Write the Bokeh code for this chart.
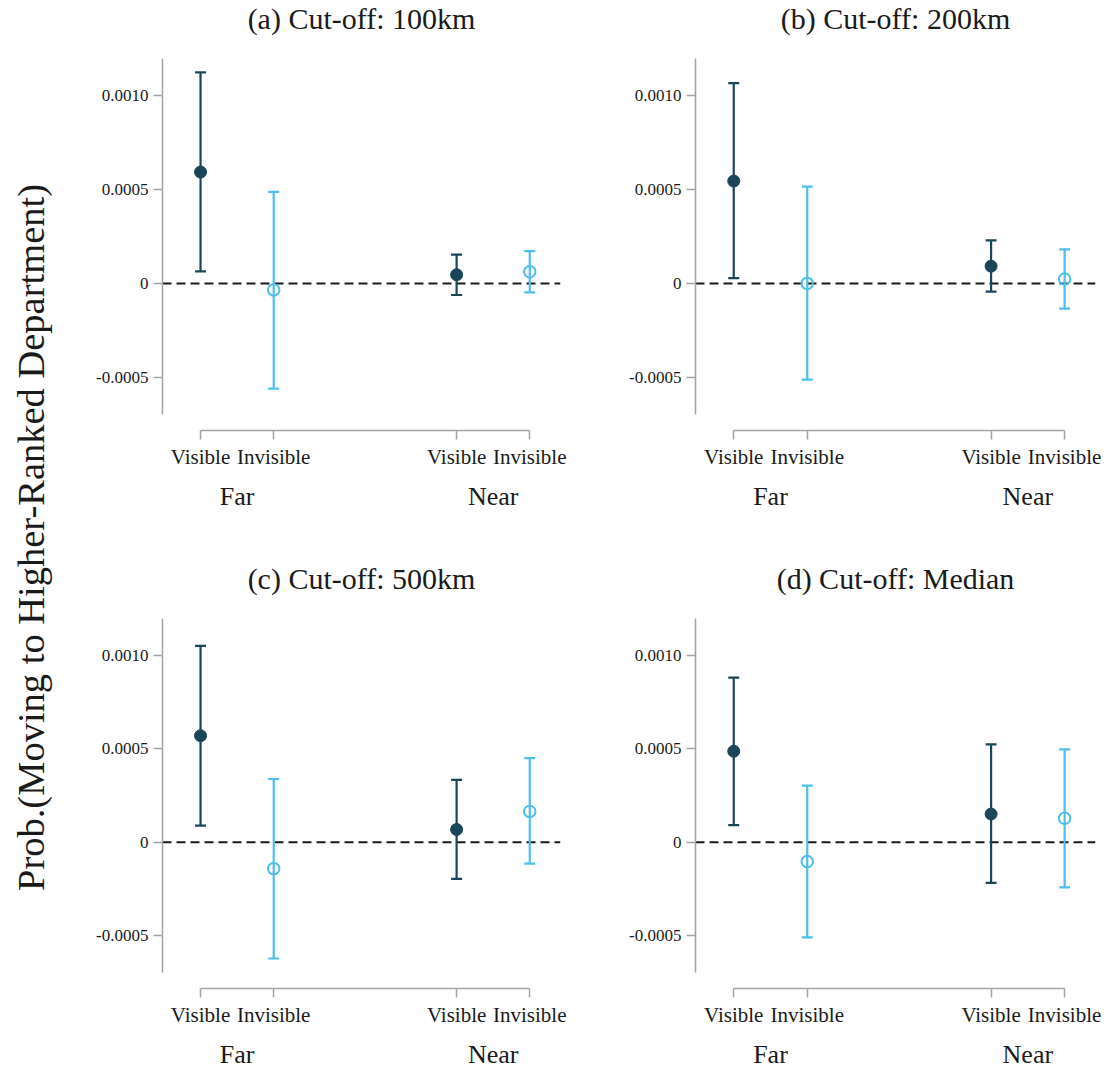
import math
from bokeh.plotting import figure
from bokeh.layouts import row, column
from bokeh.models import (ColumnDataSource, Whisker, TeeHead, FixedTicker, LinearAxis,
                          Range1d, Span, Label, CustomJSTickFormatter)
from bokeh.embed import file_html
from bokeh.resources import INLINE

# ---- data -----------------------------------------------------------------
titles = ["(a) Cut-off: 100km", "(b) Cut-off: 200km",
          "(c) Cut-off: 500km", "(d) Cut-off: Median"]
groups = ["Far", "Near"]
kinds = ["Visible", "Invisible"]
# order of the four estimates in every panel: Far-Visible, Far-Invisible, Near-Visible, Near-Invisible
est_a = [0.000594, -0.000035, 0.000046, 0.000062]
lo_a = [0.000064, -0.000562, -0.000062, -0.000048]
hi_a = [0.001126, 0.000488, 0.000154, 0.000172]

est_b = [0.000546, 0.000000, 0.000092, 0.000023]
lo_b = [0.000028, -0.000514, -0.000044, -0.000135]
hi_b = [0.001069, 0.000516, 0.000229, 0.000181]

est_c = [0.000571, -0.000142, 0.000068, 0.000165]
lo_c = [0.000089, -0.000624, -0.000197, -0.000115]
hi_c = [0.001053, 0.000339, 0.000334, 0.000451]

est_d = [0.000488, -0.000104, 0.000151, 0.000128]
lo_d = [0.000092, -0.000511, -0.000218, -0.000243]
hi_d = [0.000883, 0.000303, 0.000525, 0.000498]

y_ticks = [-0.0005, 0.0, 0.0005, 0.0010]

# ---- styling ----------------------------------------------------------------
FONT = "Liberation Serif"
DARK = "#1b4659"
LIGHT = "#4dbfec"
AXIS = "#a3a3a3"
TEXT = "#1a1a1a"

TITLE_H = 40      # height of the strip that carries each panel heading
BORDER_LEFT = 92

GROUP_GAP = 3.5   # distance between the first slots of the two groups
x_pos = [g * GROUP_GAP + k + 1 for g in range(len(groups)) for k in range(len(kinds))]
x_kind = [kinds[k] for g in range(len(groups)) for k in range(len(kinds))]
group_centers = [g * GROUP_GAP + (len(kinds) - 1) / 2 + 1 for g in range(len(groups))]

y_fmt = CustomJSTickFormatter(code="return tick == 0 ? '0' : tick.toFixed(4);")


def label_formatter(pos, labels):
    return CustomJSTickFormatter(
        args=dict(pos=pos, lab=labels),
        code="for (let i = 0; i < pos.length; i++) { if (Math.abs(pos[i] - tick) < 1e-6) return lab[i]; } return '';")


def bare_figure(width, height, **kw):
    f = figure(width=width, height=height, output_backend="svg", toolbar_location=None,
               x_range=Range1d(0, 1), y_range=Range1d(0, 1),
               x_axis_location=None, y_axis_location=None, **kw)
    f.outline_line_color = None
    f.xgrid.visible = False
    f.ygrid.visible = False
    return f


def heading(text, width, border_right):
    h = bare_figure(width, TITLE_H, min_border_left=BORDER_LEFT, min_border_right=border_right,
                    min_border_top=0, min_border_bottom=0)
    h.add_layout(Label(x=0.5, y=1 - 18 / TITLE_H, text=text,
                       text_align="center", text_baseline="middle",
                       text_font=FONT, text_font_size="30px", text_color=TEXT))
    return h


def panel(title, est, lo, hi, width, border_right, height, border_bottom):
    p = figure(width=width, height=height - TITLE_H, output_backend="svg", toolbar_location=None,
               x_range=Range1d(0.48, 5.92), y_range=Range1d(-0.000785, 0.0012),
               x_axis_location=None, y_axis_location=None,
               min_border_left=BORDER_LEFT, min_border_right=border_right,
               min_border_top=18, min_border_bottom=border_bottom)
    p.outline_line_color = None
    p.xgrid.visible = False
    p.ygrid.visible = False
    p.background_fill_color = "white"
    p.border_fill_color = "white"

    # y axis
    ya = LinearAxis(ticker=FixedTicker(ticks=y_ticks), formatter=y_fmt, bounds=(-0.0007, 0.0012))
    ya.axis_line_color = AXIS
    ya.axis_line_width = 1.5
    ya.major_tick_line_color = AXIS
    ya.major_tick_line_width = 1.5
    ya.major_tick_in = 0
    ya.major_tick_out = 9
    ya.minor_tick_line_color = None
    ya.major_label_standoff = 5
    ya.major_label_text_font = FONT
    ya.major_label_text_font_size = "17px"
    ya.major_label_text_color = TEXT
    p.add_layout(ya, "left")

    # x axis: Visible / Invisible
    xa = LinearAxis(ticker=FixedTicker(ticks=x_pos), formatter=label_formatter(x_pos, x_kind),
                    bounds=(x_pos[0], x_pos[-1]))
    xa.axis_line_color = AXIS
    xa.axis_line_width = 1.5
    xa.major_tick_line_color = AXIS
    xa.major_tick_line_width = 1.5
    xa.major_tick_in = 0
    xa.major_tick_out = 9
    xa.minor_tick_line_color = None
    xa.major_label_standoff = 5
    xa.major_label_text_font = FONT
    xa.major_label_text_font_size = "21px"
    xa.major_label_text_color = TEXT
    p.add_layout(xa, "below")

    # second row of labels: Far / Near
    ga = LinearAxis(ticker=FixedTicker(ticks=group_centers),
                    formatter=label_formatter(group_centers, groups))
    ga.axis_line_color = None
    ga.major_tick_line_color = None
    ga.minor_tick_line_color = None
    ga.major_tick_in = 0
    ga.major_tick_out = 0
    ga.major_label_standoff = 10
    ga.major_label_text_font = FONT
    ga.major_label_text_font_size = "26px"
    ga.major_label_text_color = TEXT
    p.add_layout(ga, "below")

    p.add_layout(Span(location=0, dimension="width", line_color="#1a1a1a",
                      line_width=2, line_dash="9 5", level="underlay"))

    for k, color in enumerate([DARK, LIGHT]):
        idx = [i for i in range(len(x_pos)) if x_kind[i] == kinds[k]]
        src = ColumnDataSource(dict(x=[x_pos[i] for i in idx], est=[est[i] for i in idx],
                                    lo=[lo[i] for i in idx], hi=[hi[i] for i in idx]))
        p.add_layout(Whisker(source=src, base="x", upper="hi", lower="lo",
                             line_color=color, line_width=2.2,
                             upper_head=TeeHead(size=11, line_color=color, line_width=2.2),
                             lower_head=TeeHead(size=11, line_color=color, line_width=2.2)))
        if k == 0:
            p.scatter(x="x", y="est", source=src, marker="circle", size=12,
                      fill_color=color, line_color=color, line_width=1)
        else:
            p.scatter(x="x", y="est", source=src, marker="circle", size=11.5,
                      fill_alpha=0, line_color=color, line_width=2)
    return column(heading(title, width, border_right), p)


pa = panel(titles[0], est_a, lo_a, hi_a, 533, 43, 560, 130)
pb = panel(titles[1], est_b, lo_b, hi_b, 504, 12, 560, 130)
pc = panel(titles[2], est_c, lo_c, hi_c, 533, 43, 511, 82)
pd = panel(titles[3], est_d, lo_d, hi_d, 504, 12, 511, 82)

# shared y-axis title
lab = bare_figure(70, 1071, min_border=0)
lab.add_layout(Label(x=30 / 70, y=1 - 537 / 1071,
                     text="Prob.(Moving to Higher-Ranked Department)", angle=math.pi / 2,
                     text_align="center", text_baseline="middle",
                     text_font=FONT, text_font_size="38.5px", text_color=TEXT))

layout = row(lab, column(row(pa, pb), row(pc, pd)))

open("out.html", "w").write(file_html(layout, INLINE))
